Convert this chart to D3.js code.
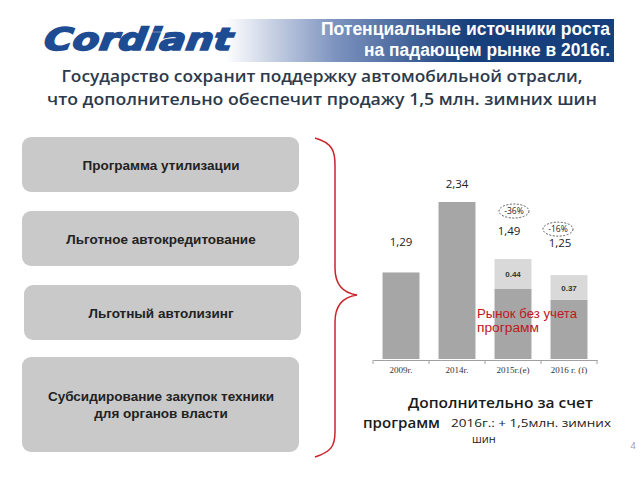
<!DOCTYPE html>
<html>
<head>
<meta charset="utf-8">
<script src="https://cdn.jsdelivr.net/npm/d3@7"></script>
<style>
  body { margin: 0; background: #fff; }
  svg { display: block; }
</style>
</head>
<body>
<svg id="chart" width="640" height="480"></svg>
<script>
// data
const years = ['2009г.', '2014г.', '2015г.(e)', '2016 г. (f)'];
const totals = [1.29, 2.34, 1.49, 1.25];
const programs = [0, 0, 0.44, 0.37];
const totalLabels = ['1,29', '2,34', '1,49', '1,25'];
const programLabels = ['', '', '0.44', '0.37'];
const changes = [null, null, '-36%', '-16%'];
const measures = ['Программа утилизации', 'Льготное автокредитование', 'Льготный автолизинг',
    'Субсидирование закупок техники|для органов власти'];

const svg = d3.select('#chart');

// header banner
const defs = svg.append('defs');
const grad = defs.append('linearGradient').attr('id', 'banner')
    .attr('gradientUnits', 'userSpaceOnUse').attr('x1', 225).attr('x2', 470).attr('y1', 0).attr('y2', 0);
grad.append('stop').attr('offset', 0).attr('stop-color', '#ffffff');
grad.append('stop').attr('offset', 0.45).attr('stop-color', '#7d93bf');
grad.append('stop').attr('offset', 1).attr('stop-color', '#173f7b');
svg.append('rect').attr('x', 225).attr('y', 19).attr('width', 389).attr('height', 43).attr('fill', 'url(#banner)');

svg.append('text').attr('x', 44).attr('y', 50)
    .attr('font-family', 'DejaVu Sans').attr('font-weight', 'bold').attr('font-style', 'italic')
    .attr('font-size', 31).attr('fill', '#1e4c93')
    .attr('textLength', 188).attr('lengthAdjust', 'spacingAndGlyphs')
    .attr('stroke', '#1e4c93').attr('stroke-width', 1.6)
    .attr('transform', 'skewX(-8) translate(6,0)')
    .text('Cordiant');

const title = ['Потенциальные источники роста', 'на падающем рынке в 2016г.'];
svg.selectAll('.title').data(title).enter().append('text')
    .attr('x', 610).attr('y', (d, i) => 35 + i * 21)
    .attr('text-anchor', 'end').attr('fill', '#fff')
    .attr('font-family', 'Liberation Sans Narrow, Liberation Sans').attr('font-weight', 'bold').attr('font-size', 17.5)
    .attr('textLength', (d, i) => i === 0 ? 289 : 246).attr('lengthAdjust', 'spacingAndGlyphs')
    .text(d => d);

const subtitle = ['Государство сохранит поддержку автомобильной отрасли,',
    'что дополнительно обеспечит продажу 1,5 млн. зимних шин'];
svg.selectAll('.sub').data(subtitle).enter().append('text')
    .attr('x', 322).attr('y', (d, i) => 82 + i * 23)
    .attr('text-anchor', 'middle').attr('fill', '#2d3a4c')
    .attr('font-family', 'Open Sans').attr('font-weight', 600).attr('font-size', 16)
    .attr('textLength', (d, i) => i === 0 ? 521 : 550).attr('lengthAdjust', 'spacingAndGlyphs')
    .text(d => d);

// measure boxes
const boxY = [137, 211, 285, 357];
const boxH = [55, 55, 55, 95];
const boxes = svg.selectAll('.box').data(measures).enter().append('g');
boxes.append('rect')
    .attr('x', (d, i) => i === 2 ? 24 : 22).attr('y', (d, i) => boxY[i])
    .attr('width', 277).attr('height', (d, i) => boxH[i])
    .attr('rx', 9).attr('fill', '#c9c9c9');
boxes.each(function (d, i) {
    const lines = d.split('|');
    d3.select(this).selectAll('text').data(lines).enter().append('text')
        .attr('x', 161)
        .attr('y', (l, j) => boxY[i] + boxH[i] / 2 + 5 + (j - (lines.length - 1) / 2) * 17)
        .attr('text-anchor', 'middle').attr('fill', '#222')
        .attr('font-family', 'Liberation Sans').attr('font-weight', 'bold').attr('font-size', 13.5)
        .text(l => l);
});

// brace
svg.append('path')
    .attr('d', 'M315,138 C333,143 335,152 335,165 L335,268 C335,285 343,293 357,295 C343,297 335,305 335,322 L335,432 C335,446 331,452 315,457')
    .attr('fill', 'none').attr('stroke', '#c9252c').attr('stroke-width', 1.5);

// chart
const x = d3.scaleBand().domain(years).range([373, 597]).paddingInner(0.34).paddingOuter(0.17);
const y = d3.scaleLinear().domain([0, 2.34]).range([359, 202]);

const axis = svg.append('g').attr('transform', 'translate(0,360)')
    .call(d3.axisBottom(x).tickSize(0).tickPadding(7));
axis.select('.domain').attr('stroke', '#a0a0a0');
axis.selectAll('text').attr('font-family', 'Liberation Serif').attr('font-size', 9).attr('fill', '#333');
const bounds = d3.range(years.length + 1).map(i => x.range()[0] + i * x.step());
axis.selectAll('.bound').data(bounds).enter().append('line')
    .attr('x1', d => d).attr('x2', d => d).attr('y1', 0).attr('y2', 4).attr('stroke', '#a0a0a0');

svg.selectAll('.base').data(years).enter().append('rect')
    .attr('x', d => x(d)).attr('width', x.bandwidth())
    .attr('y', (d, i) => y(totals[i] - programs[i]))
    .attr('height', (d, i) => y(0) - y(totals[i] - programs[i]))
    .attr('fill', '#a6a6a6');
svg.selectAll('.prog').data(years).enter().append('rect')
    .attr('x', d => x(d)).attr('width', x.bandwidth())
    .attr('y', (d, i) => y(totals[i]))
    .attr('height', (d, i) => y(totals[i] - programs[i]) - y(totals[i]))
    .attr('fill', '#d9d9d9');

svg.selectAll('.plabel').data(years).enter().append('text')
    .attr('x', d => x(d) + x.bandwidth() / 2)
    .attr('y', (d, i) => (y(totals[i]) + y(totals[i] - programs[i])) / 2 + 3)
    .attr('text-anchor', 'middle').attr('font-family', 'Liberation Sans').attr('font-weight', 'bold')
    .attr('font-size', 8).attr('fill', '#333')
    .text((d, i) => programLabels[i]);

const labelDy = [26, 14, 24, 28];
const labelDx = [0, 0, -4, -9];
svg.selectAll('.tlabel').data(years).enter().append('text')
    .attr('x', (d, i) => x(d) + x.bandwidth() / 2 + labelDx[i])
    .attr('y', (d, i) => y(totals[i]) - labelDy[i])
    .attr('text-anchor', 'middle').attr('font-family', 'Open Sans')
    .attr('font-size', 11.5).attr('fill', '#222')
    .text((d, i) => totalLabels[i]);

const chgDx = [0, 0, 1, -11];
const chgDy = [0, 0, 48, 46];
const chg = svg.selectAll('.chg').data(years.filter((d, i) => changes[i])).enter().append('g')
    .attr('transform', d => {
        const i = years.indexOf(d);
        return `translate(${x(d) + x.bandwidth() / 2 + chgDx[i]},${y(totals[i]) - chgDy[i]})`;
    });
chg.append('ellipse').attr('rx', 15).attr('ry', 7)
    .attr('fill', 'none').attr('stroke', '#333').attr('stroke-width', 0.8).attr('stroke-dasharray', '2,1.5');
chg.append('text').attr('y', 3).attr('text-anchor', 'middle')
    .attr('font-family', 'Open Sans').attr('font-size', 8.5).attr('fill', '#222')
    .text(d => changes[years.indexOf(d)]);

svg.selectAll('.red').data(['Рынок без учета', 'программ']).enter().append('text')
    .attr('x', 477).attr('y', (d, i) => 318 + i * 14)
    .attr('font-family', 'Liberation Sans').attr('font-size', 12.5).attr('fill', '#c0161e')
    .attr('textLength', (d, i) => i === 0 ? 100 : 62).attr('lengthAdjust', 'spacingAndGlyphs')
    .text(d => d);

// bottom note
svg.append('text').attr('x', 408).attr('y', 408)
    .attr('font-family', 'Open Sans').attr('font-weight', 600).attr('font-size', 14).attr('fill', '#1a1a1a')
    .attr('textLength', 185).attr('lengthAdjust', 'spacingAndGlyphs')
    .text('Дополнительно за счет');
svg.append('text').attr('x', 363).attr('y', 428)
    .attr('font-family', 'Open Sans').attr('font-weight', 600).attr('font-size', 14).attr('fill', '#1a1a1a')
    .attr('textLength', 77).attr('lengthAdjust', 'spacingAndGlyphs')
    .text('программ');
svg.append('text').attr('x', 451).attr('y', 427)
    .attr('font-family', 'Open Sans').attr('font-size', 11).attr('fill', '#1a1a1a')
    .attr('textLength', 160).attr('lengthAdjust', 'spacingAndGlyphs')
    .text('2016г.: + 1,5млн. зимних');
svg.append('text').attr('x', 472).attr('y', 443)
    .attr('font-family', 'Open Sans').attr('font-size', 11).attr('fill', '#1a1a1a')
    .text('шин');
svg.append('text').attr('x', 633).attr('y', 449).attr('text-anchor', 'middle')
    .attr('font-family', 'Open Sans').attr('font-size', 9).attr('fill', '#999')
    .text('4');
</script>
</body>
</html>
